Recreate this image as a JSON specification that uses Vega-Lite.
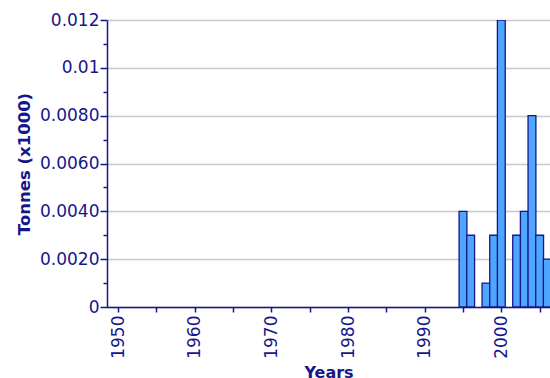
{
  "$schema": "https://vega.github.io/schema/vega-lite/v6.json",
  "width": 443,
  "height": 287,
  "autosize": {"type": "none"},
  "padding": {"left": 107, "top": 20, "right": 0, "bottom": 71},
  "background": "white",
  "data": {
    "values": [
      {"year": 1995, "tonnes": 0.004},
      {"year": 1996, "tonnes": 0.003},
      {"year": 1998, "tonnes": 0.001},
      {"year": 1999, "tonnes": 0.003},
      {"year": 2000, "tonnes": 0.012},
      {"year": 2002, "tonnes": 0.003},
      {"year": 2003, "tonnes": 0.004},
      {"year": 2004, "tonnes": 0.008},
      {"year": 2005, "tonnes": 0.003},
      {"year": 2006, "tonnes": 0.002}
    ]
  },
  "mark": {"type": "bar", "width": 7.84, "fill": "#4fa6ff", "stroke": "#16168a", "strokeWidth": 1.3, "clip": true},
  "encoding": {
    "x": {
      "field": "year",
      "type": "quantitative",
      "scale": {"domain": [1949.2, 2005.7], "nice": false, "zero": false},
      "axis": {
        "values": [1950, 1955, 1960, 1965, 1970, 1975, 1980, 1985, 1990, 1995, 2000, 2005],
        "labelExpr": "datum.value % 10 == 0 ? '' + datum.value : ''",
        "labelAngle": -90,
        "labelFont": "DejaVu Sans",
        "labelFontSize": 17,
        "labelColor": "#16168a",
        "labelPadding": 3,
        "tickSize": 5,
        "tickColor": "#16168a",
        "tickWidth": 1.5,
        "domainColor": "#16168a",
        "domainWidth": 1.5,
        "grid": false,
        "title": "Years",
        "titleFont": "DejaVu Sans",
        "titleFontSize": 16,
        "titleFontWeight": "bold",
        "titleColor": "#16168a",
        "titlePadding": 6
      }
    },
    "y": {
      "field": "tonnes",
      "type": "quantitative",
      "scale": {"domain": [0, 0.012], "nice": false},
      "axis": {
        "values": [0, 0.001, 0.002, 0.003, 0.004, 0.005, 0.006, 0.007, 0.008, 0.009, 0.01, 0.011, 0.012],
        "labelExpr": "round(datum.value*1000) % 2 == 1 ? '' : round(datum.value*1000) == 0 ? '0' : round(datum.value*1000) == 10 ? '0.01' : round(datum.value*1000) == 12 ? '0.012' : format(datum.value, '.4f')",
        "labelFont": "DejaVu Sans",
        "labelFontSize": 17,
        "labelColor": "#16168a",
        "labelPadding": 1,
        "tickSize": {"condition": {"test": "round(datum.value*1000) % 2 == 1", "value": 4}, "value": 7},
        "tickColor": "#16168a",
        "tickWidth": 1.5,
        "domainColor": "#16168a",
        "domainWidth": 1.5,
        "grid": true,
        "gridColor": "#c8c8c8",
        "gridWidth": 1.5,
        "gridOpacity": {"condition": {"test": "round(datum.value*1000) % 2 == 1", "value": 0}, "value": 1},
        "title": "Tonnes (x1000)",
        "titleFont": "DejaVu Sans",
        "titleFontSize": 16.5,
        "titleFontWeight": "bold",
        "titleColor": "#16168a",
        "titlePadding": 7
      }
    }
  },
  "config": {"view": {"stroke": null}}
}
